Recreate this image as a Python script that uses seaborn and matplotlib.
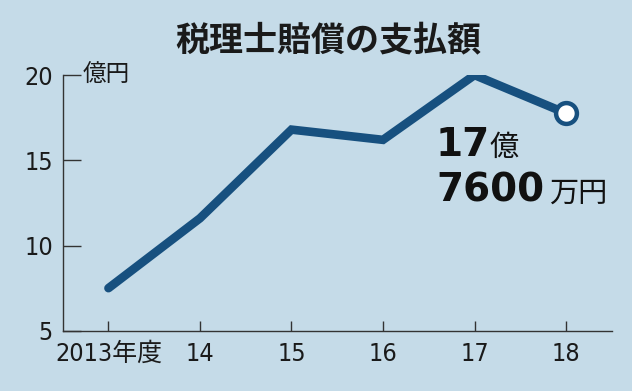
import matplotlib
matplotlib.use("Agg")
import matplotlib.pyplot as plt
import seaborn as sns
import pandas as pd

# --- data ---
years = [2013, 2014, 2015, 2016, 2017, 2018]
tick_labels = ["2013年度", "14", "15", "16", "17", "18"]
payout = [7.5, 11.6, 16.8, 16.2, 20.0, 17.76]  # 億円
y_ticks = [5, 10, 15, 20]

df = pd.DataFrame({"year": years, "payout": payout})

BG = "#c5dbe8"
LINE = "#17507f"

sns.set_theme(style="white")
plt.rcParams["font.family"] = ["DejaVu Sans", "Noto Sans CJK JP"]
plt.rcParams["font.stretch"] = "condensed"

fig = plt.figure(figsize=(6.32, 3.91), dpi=100, facecolor=BG)
ax = fig.add_axes([0.0992, 0.154, 0.8688, 0.654])
ax.set_facecolor(BG)

sns.lineplot(data=df, x="year", y="payout", ax=ax, color=LINE, linewidth=6.2,
             solid_capstyle="round", solid_joinstyle="miter")
# open circle on the latest value
last = df.iloc[[-1]]
ax.plot(last["year"], last["payout"], "o", markersize=15, markerfacecolor="white",
        markeredgecolor=LINE, markeredgewidth=3.2, zorder=5, clip_on=False)

ax.set_xlim(2012.5, 2018.5)
ax.set_ylim(5, 20)
ax.set_xticks(years)
ax.set_xticklabels(tick_labels)
ax.set_yticks(y_ticks)
ax.set_xlabel("")
ax.set_ylabel("")

for side in ["top", "right"]:
    ax.spines[side].set_visible(False)
for side in ["left", "bottom"]:
    ax.spines[side].set_color("#333333")
    ax.spines[side].set_linewidth(1.0)

ax.tick_params(axis="x", bottom=True, direction="in", length=7, width=1, color="#333333",
               labelsize=18, pad=8, labelcolor="#1a1a1a")
ax.tick_params(axis="y", left=True, direction="in", length=13, width=1, color="#333333",
               labelsize=18, pad=7, labelcolor="#1a1a1a")

# unit label next to the top tick
fig.text(83 / 632, 1 - 75 / 391, "億円", fontsize=17, family="Noto Sans CJK JP",
         ha="left", va="center", color="#1a1a1a")

# title
fig.text(0.519, 1 - 40 / 391, "税理士賠償の支払額", fontsize=24.5, fontweight="bold",
         family="Noto Sans CJK JP", ha="center", va="center", color="#1a1a1a")

# callout for the latest value
fig.text(436 / 632, 1 - 156 / 391, "17", fontsize=28, fontweight="bold",
         family="DejaVu Sans", stretch="normal", ha="left", va="baseline", color="#111111")
fig.text(489 / 632, 1 - 156 / 391, "億", fontsize=21, family="Noto Sans CJK JP",
         ha="left", va="baseline", color="#111111")
fig.text(436 / 632, 1 - 202 / 391, "7600", fontsize=28, fontweight="bold",
         family="DejaVu Sans", stretch="normal", ha="left", va="baseline", color="#111111")
fig.text(549 / 632, 1 - 202 / 391, "万円", fontsize=21, family="Noto Sans CJK JP",
         ha="left", va="baseline", color="#111111")

fig.savefig("out.png", dpi=100, facecolor=BG)
